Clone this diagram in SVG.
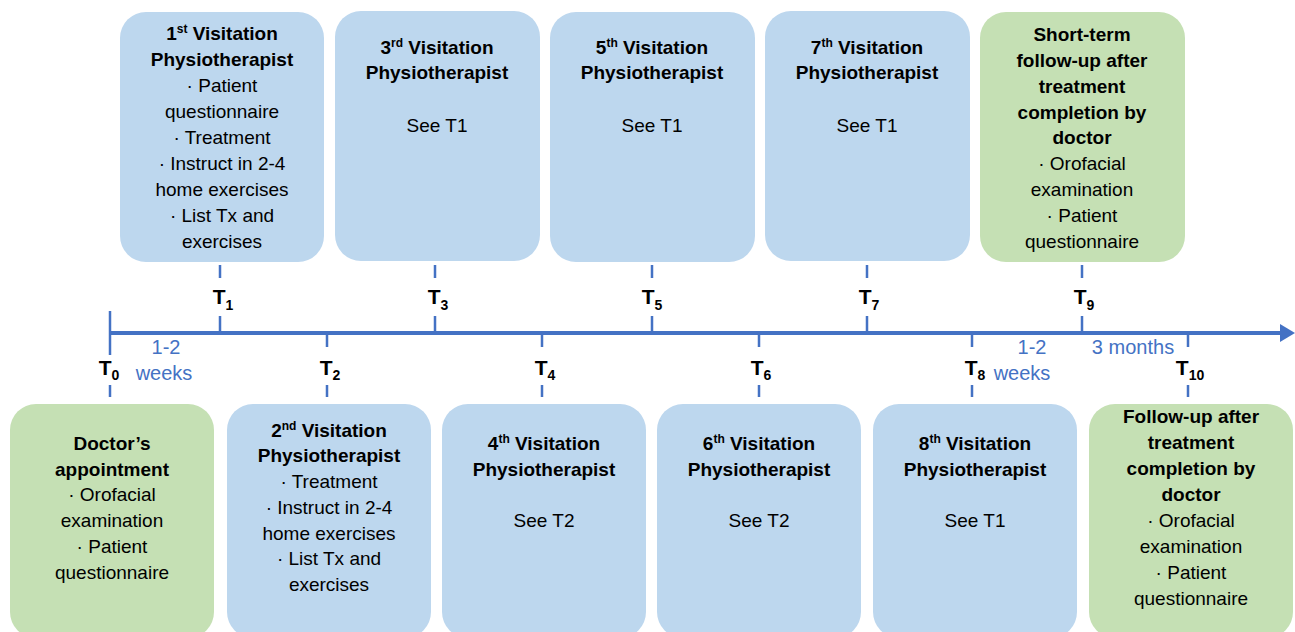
<svg xmlns="http://www.w3.org/2000/svg" width="1295" height="632" viewBox="0 0 1295 632">
<style>
.blue{fill:#BDD7EE}
.green{fill:#C5E0B4}
.t{font-family:"Liberation Sans",Arial,sans-serif;font-size:19px;fill:#000;text-anchor:middle}
.b{font-weight:bold}
.sup{font-size:12px}
.tl{font-family:"Liberation Sans Narrow","Liberation Sans",Arial,sans-serif;font-weight:bold;font-size:21px;fill:#000;text-anchor:middle}
.sub{font-size:14px}
.bl{font-family:"Liberation Sans Narrow","Liberation Sans",Arial,sans-serif;font-size:20px;fill:#4472C4;text-anchor:middle}
.tick{stroke:#4472C4;stroke-width:2.5;fill:none}
</style>
<rect width="1295" height="632" fill="#fff"/>
<g id="connectors">
  <line x1="110" y1="333" x2="1282" y2="333" stroke="#4472C4" stroke-width="4"/>
  <polygon points="1280,324 1295,333 1280,342" fill="#4472C4"/>
  <line class="tick" x1="110" y1="311" x2="110" y2="355" stroke-width="3"/>
  <line class="tick" x1="110" y1="385" x2="110" y2="397"/>
  <g id="top-ticks">
    <path class="tick" d="M220 265V278M220 316V333"/>
    <path class="tick" d="M435 265V278M435 316V333"/>
    <path class="tick" d="M652 265V278M652 316V333"/>
    <path class="tick" d="M867 265V278M867 316V333"/>
    <path class="tick" d="M1082 265V278M1082 316V333"/>
  </g>
  <g id="bottom-ticks">
    <path class="tick" d="M327 333V347M327 385V397"/>
    <path class="tick" d="M542 333V347M542 385V397"/>
    <path class="tick" d="M759 333V347M759 385V397"/>
    <path class="tick" d="M972 333V347M972 385V397"/>
    <path class="tick" d="M1188 333V347M1188 385V397"/>
  </g>
</g>
<g id="time-labels">
  <text class="tl" x="109" y="375">T<tspan class="sub" dy="5">0</tspan></text>
  <text class="tl" x="223" y="304">T<tspan class="sub" dy="6">1</tspan></text>
  <text class="tl" x="330" y="375">T<tspan class="sub" dy="5">2</tspan></text>
  <text class="tl" x="438" y="304">T<tspan class="sub" dy="6">3</tspan></text>
  <text class="tl" x="545" y="375">T<tspan class="sub" dy="5">4</tspan></text>
  <text class="tl" x="652" y="304">T<tspan class="sub" dy="6">5</tspan></text>
  <text class="tl" x="761" y="375">T<tspan class="sub" dy="5">6</tspan></text>
  <text class="tl" x="869" y="304">T<tspan class="sub" dy="6">7</tspan></text>
  <text class="tl" x="975" y="375">T<tspan class="sub" dy="5">8</tspan></text>
  <text class="tl" x="1084" y="304">T<tspan class="sub" dy="6">9</tspan></text>
  <text class="tl" x="1190" y="375">T<tspan class="sub" dy="5">10</tspan></text>
  <text class="bl" x="166" y="354">1-2</text>
  <text class="bl" x="164" y="380">weeks</text>
  <text class="bl" x="1032" y="354">1-2</text>
  <text class="bl" x="1022" y="380">weeks</text>
  <text class="bl" x="1133" y="354">3 months</text>
</g>
<g id="node-t1">
  <rect class="blue" x="120" y="12" width="204" height="250" rx="26"/>
  <text class="t b" x="222" y="40">1<tspan class="sup" dy="-7">st</tspan><tspan dy="7"> Visitation</tspan></text>
  <text class="t b" x="222" y="66">Physiotherapist</text>
  <text class="t" x="222" y="92">· Patient</text>
  <text class="t" x="222" y="118">questionnaire</text>
  <text class="t" x="222" y="144">· Treatment</text>
  <text class="t" x="222" y="170">· Instruct in 2-4</text>
  <text class="t" x="222" y="196">home exercises</text>
  <text class="t" x="222" y="222">· List Tx and</text>
  <text class="t" x="222" y="248">exercises</text>
</g>
<g id="node-t3">
  <rect class="blue" x="335" y="11" width="205" height="250" rx="26"/>
  <text class="t b" x="437" y="54">3<tspan class="sup" dy="-7">rd</tspan><tspan dy="7"> Visitation</tspan></text>
  <text class="t b" x="437" y="79">Physiotherapist</text>
  <text class="t" x="437" y="132">See T1</text>
</g>
<g id="node-t5">
  <rect class="blue" x="550" y="12" width="205" height="250" rx="26"/>
  <text class="t b" x="652" y="54">5<tspan class="sup" dy="-7">th</tspan><tspan dy="7"> Visitation</tspan></text>
  <text class="t b" x="652" y="79">Physiotherapist</text>
  <text class="t" x="652" y="132">See T1</text>
</g>
<g id="node-t7">
  <rect class="blue" x="765" y="11" width="205" height="250" rx="26"/>
  <text class="t b" x="867" y="54">7<tspan class="sup" dy="-7">th</tspan><tspan dy="7"> Visitation</tspan></text>
  <text class="t b" x="867" y="79">Physiotherapist</text>
  <text class="t" x="867" y="132">See T1</text>
</g>
<g id="node-t9">
  <rect class="green" x="980" y="12" width="205" height="250" rx="26"/>
  <text class="t b" x="1082" y="41">Short-term</text>
  <text class="t b" x="1082" y="67">follow-up after</text>
  <text class="t b" x="1082" y="93">treatment</text>
  <text class="t b" x="1082" y="119">completion by</text>
  <text class="t b" x="1082" y="144">doctor</text>
  <text class="t" x="1082" y="170">· Orofacial</text>
  <text class="t" x="1082" y="196">examination</text>
  <text class="t" x="1082" y="222">· Patient</text>
  <text class="t" x="1082" y="248">questionnaire</text>
</g>
<g id="node-t0">
  <rect class="green" x="10" y="404" width="204" height="234" rx="26"/>
  <text class="t b" x="112" y="450">Doctor’s</text>
  <text class="t b" x="112" y="476">appointment</text>
  <text class="t" x="112" y="501">· Orofacial</text>
  <text class="t" x="112" y="527">examination</text>
  <text class="t" x="112" y="553">· Patient</text>
  <text class="t" x="112" y="579">questionnaire</text>
</g>
<g id="node-t2">
  <rect class="blue" x="227" y="404" width="204" height="234" rx="26"/>
  <text class="t b" x="329" y="437">2<tspan class="sup" dy="-7">nd</tspan><tspan dy="7"> Visitation</tspan></text>
  <text class="t b" x="329" y="462">Physiotherapist</text>
  <text class="t" x="329" y="488">· Treatment</text>
  <text class="t" x="329" y="514">· Instruct in 2-4</text>
  <text class="t" x="329" y="540">home exercises</text>
  <text class="t" x="329" y="565">· List Tx and</text>
  <text class="t" x="329" y="591">exercises</text>
</g>
<g id="node-t4">
  <rect class="blue" x="442" y="404" width="204" height="234" rx="26"/>
  <text class="t b" x="544" y="450">4<tspan class="sup" dy="-7">th</tspan><tspan dy="7"> Visitation</tspan></text>
  <text class="t b" x="544" y="476">Physiotherapist</text>
  <text class="t" x="544" y="527">See T2</text>
</g>
<g id="node-t6">
  <rect class="blue" x="657" y="404" width="204" height="234" rx="26"/>
  <text class="t b" x="759" y="450">6<tspan class="sup" dy="-7">th</tspan><tspan dy="7"> Visitation</tspan></text>
  <text class="t b" x="759" y="476">Physiotherapist</text>
  <text class="t" x="759" y="527">See T2</text>
</g>
<g id="node-t8">
  <rect class="blue" x="873" y="404" width="204" height="234" rx="26"/>
  <text class="t b" x="975" y="450">8<tspan class="sup" dy="-7">th</tspan><tspan dy="7"> Visitation</tspan></text>
  <text class="t b" x="975" y="476">Physiotherapist</text>
  <text class="t" x="975" y="527">See T1</text>
</g>
<g id="node-t10">
  <rect class="green" x="1089" y="404" width="204" height="234" rx="26"/>
  <text class="t b" x="1191" y="423">Follow-up after</text>
  <text class="t b" x="1191" y="449">treatment</text>
  <text class="t b" x="1191" y="475">completion by</text>
  <text class="t b" x="1191" y="501">doctor</text>
  <text class="t" x="1191" y="527">· Orofacial</text>
  <text class="t" x="1191" y="553">examination</text>
  <text class="t" x="1191" y="579">· Patient</text>
  <text class="t" x="1191" y="605">questionnaire</text>
</g>
</svg>
